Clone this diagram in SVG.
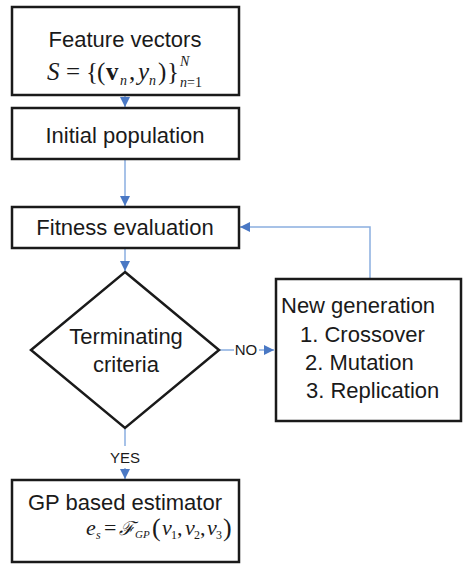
<svg xmlns="http://www.w3.org/2000/svg" width="463" height="568" viewBox="0 0 463 568">
  <style>
    .box { fill: #ffffff; stroke: #1a1a1a; stroke-width: 2.5; }
    .lbl { font-family: "Liberation Sans", Arial, sans-serif; font-size: 22px; fill: #1a1a1a; }
    .small { font-family: "Liberation Sans", Arial, sans-serif; font-size: 15px; fill: #1a1a1a; }
    .math { font-family: "Liberation Serif", "Times New Roman", serif; fill: #1a1a1a; }
    .link { fill: none; stroke: #8aaee0; stroke-width: 1.5; }
  </style>
  <defs>
    <marker id="arrow" markerUnits="userSpaceOnUse" markerWidth="10" markerHeight="10" viewBox="0 0 10 10" refX="10" refY="5" orient="auto">
      <path d="M0,0 L10,5 L0,10 Z" fill="#4a78c4"/>
    </marker>
  </defs>
  <rect width="463" height="568" fill="#ffffff"/>

  <!-- connectors -->
  <g id="connectors">
    <line class="link" x1="125" y1="96" x2="125" y2="107" marker-end="url(#arrow)"/>
    <line class="link" x1="125" y1="160" x2="125" y2="206" marker-end="url(#arrow)"/>
    <line class="link" x1="125" y1="249" x2="125" y2="271" marker-end="url(#arrow)"/>
    <line class="link" x1="220" y1="350" x2="234" y2="350"/>
    <line class="link" x1="259" y1="350" x2="274" y2="350" marker-end="url(#arrow)"/>
    <path class="link" d="M370,278 V227 H240" marker-end="url(#arrow)"/>
    <line class="link" x1="125" y1="429" x2="125" y2="446"/>
    <line class="link" x1="125" y1="468" x2="125" y2="479" marker-end="url(#arrow)"/>
    <text class="small" x="246" y="355" text-anchor="middle">NO</text>
    <text class="small" x="125" y="463" text-anchor="middle">YES</text>
  </g>

  <!-- feature vectors -->
  <g id="features">
    <rect class="box" x="12" y="7" width="227" height="88"/>
    <text class="lbl" x="125" y="47" text-anchor="middle">Feature vectors</text>
    <text class="math" style="font-size:25px" y="80"><tspan x="47" font-style="italic">S</tspan><tspan x="66">=</tspan><tspan x="86">{</tspan><tspan x="97">(</tspan><tspan x="106" font-weight="bold">v</tspan><tspan x="120" y="85" style="font-size:14px" font-style="italic">n</tspan><tspan x="129" y="80">,</tspan><tspan x="138" font-style="italic">y</tspan><tspan x="149" y="85" style="font-size:14px" font-style="italic">n</tspan><tspan x="158" y="80">)</tspan><tspan x="167">}</tspan></text>
    <text class="math" style="font-size:14px" x="180" y="66" font-style="italic">N</text>
    <text class="math" style="font-size:14px" x="180" y="87"><tspan font-style="italic">n</tspan>=1</text>
  </g>

  <!-- initial population -->
  <g id="initial">
    <rect class="box" x="12" y="108" width="227" height="51"/>
    <text class="lbl" x="125" y="143" text-anchor="middle">Initial population</text>
  </g>

  <!-- fitness evaluation -->
  <g id="fitness">
    <rect class="box" x="12" y="207" width="227" height="41"/>
    <text class="lbl" x="125" y="235" text-anchor="middle">Fitness evaluation</text>
  </g>

  <!-- terminating criteria -->
  <g id="criteria">
    <polygon class="box" points="125,272 219,350 125,428 31,350"/>
    <text class="lbl" x="126" y="344" text-anchor="middle">Terminating</text>
    <text class="lbl" x="126" y="372" text-anchor="middle">criteria</text>
  </g>

  <!-- new generation -->
  <g id="generation">
    <rect class="box" x="276" y="279" width="185" height="142"/>
    <text class="lbl" x="281" y="313">New generation</text>
    <text class="lbl" x="300" y="342">1. Crossover</text>
    <text class="lbl" x="305" y="370">2. Mutation</text>
    <text class="lbl" x="306" y="398">3. Replication</text>
  </g>

  <!-- estimator -->
  <g id="estimator">
    <rect class="box" x="12" y="480" width="227" height="82"/>
    <text class="lbl" x="125" y="510" text-anchor="middle">GP based estimator</text>
    <text class="math" style="font-size:22px" y="535"><tspan x="86" font-style="italic">e</tspan><tspan x="96" y="539" style="font-size:12px" font-style="italic">s</tspan><tspan x="104" y="535">=</tspan><tspan x="119" font-style="italic" font-family="'DejaVu Serif', serif" style="font-size:19px">ℱ</tspan><tspan x="135" y="538" style="font-size:11px" font-style="italic">GP</tspan><tspan x="152" y="536" style="font-size:26px">(</tspan><tspan x="162" y="535" font-style="italic">v</tspan><tspan x="171" y="539" style="font-size:12px">1</tspan><tspan x="177" y="535">,</tspan><tspan x="185" font-style="italic">v</tspan><tspan x="194" y="539" style="font-size:12px">2</tspan><tspan x="200" y="535">,</tspan><tspan x="207" font-style="italic">v</tspan><tspan x="216" y="539" style="font-size:12px">3</tspan><tspan x="223" y="536" style="font-size:26px">)</tspan></text>
  </g>
</svg>
